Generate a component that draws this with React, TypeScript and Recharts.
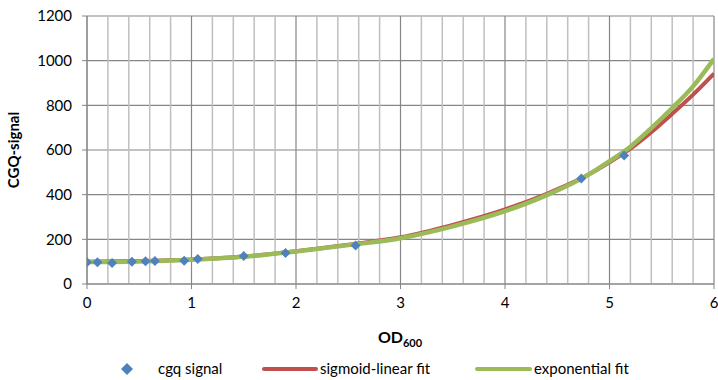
import { ComposedChart, Line, Scatter, XAxis, YAxis, CartesianGrid, ReferenceLine } from 'recharts';

document.body.style.margin = '0';

const FONT = 'Lato, "DejaVu Sans", sans-serif';

const sampleX = [0, 0.5, 1, 1.5, 2, 2.5, 3, 3.5, 4, 4.4, 4.8, 5, 5.2, 5.4, 5.6, 5.8, 6];
const sigmoidFit = [100, 103, 110, 123, 147, 176, 209, 265, 334, 404, 490, 545, 606, 680, 762, 848, 942];
const expFit = [98, 101, 109, 122, 146, 174, 205, 258, 326, 398, 490, 550, 615, 698, 788, 885, 1008];

// measured cgq signal
const cgqX = [0, 0.1, 0.24, 0.43, 0.56, 0.65, 0.93, 1.06, 1.5, 1.9, 2.57, 4.73, 5.14];
const cgqY = [97, 97, 94, 100, 102, 103, 104, 112, 125, 139, 172, 472, 575];

const xTicks = [0, 1, 2, 3, 4, 5, 6];
const yTicks = [0, 200, 400, 600, 800, 1000, 1200];

const sigmoidData = sampleX.map((x, i) => ({ x, y: sigmoidFit[i] }));
const expData = sampleX.map((x, i) => ({ x, y: expFit[i] }));
const cgqData = cgqX.map((x, i) => ({ x, y: cgqY[i] }));

// minor vertical gridlines every 0.2
const minorX: number[] = [];
for (let i = 1; i < 30; i++) {
  if (i % 5 !== 0) minorX.push(Math.round(i * 20) / 100);
}

const Diamond = (props: any) => {
  const { cx, cy } = props;
  if (cx == null || cy == null) return null;
  const r = 5;
  return <polygon points={`${cx},${cy - r} ${cx + r},${cy} ${cx},${cy + r} ${cx - r},${cy}`} fill="#4F81BD" />;
};

function LegendRow() {
  const txt = { position: 'absolute' as const, top: 359, fontFamily: FONT, fontSize: 15, color: '#000' };
  return (
    <>
      <svg style={{ position: 'absolute', left: 121, top: 363 }} width={12} height={12}>
        <polygon points="6,0 12,6 6,12 0,6" fill="#4F81BD" />
      </svg>
      <div style={{ ...txt, left: 158 }}>cgq signal</div>
      <div style={{ position: 'absolute', left: 262, top: 367, width: 56, height: 4, background: '#C0504D', borderRadius: 2 }} />
      <div style={{ ...txt, left: 320 }}>sigmoid-linear fit</div>
      <div style={{ position: 'absolute', left: 475, top: 367, width: 57, height: 4, background: '#9BBB59', borderRadius: 2 }} />
      <div style={{ ...txt, left: 534 }}>exponential fit</div>
    </>
  );
}

export default function App() {
  return (
    <div style={{ position: 'relative', width: 718, height: 380, background: '#fff' }}>
      <ComposedChart width={718} height={380} margin={{ top: 16, right: 4, left: 0, bottom: 36 }}>
        {minorX.map((v) => (
          <ReferenceLine key={v} x={v} stroke="#BFBFBF" strokeWidth={1.5} />
        ))}
        <CartesianGrid stroke="#868686" strokeWidth={1.2} horizontal vertical />
        <XAxis
          type="number"
          dataKey="x"
          domain={[0, 6]}
          ticks={xTicks}
          allowDataOverflow
          height={60}
          stroke="#868686"
          tickSize={5}
          tickMargin={8}
          tick={{ fill: '#000', fontSize: 15, fontFamily: FONT }}
          label={(p: any) => (
            <text x={400} y={343} textAnchor="middle" fontFamily={FONT} fontWeight="bold" fontSize={16} fill="#000">
              OD<tspan fontSize={11} dy={4}>600</tspan>
            </text>
          )}
        />
        <YAxis
          type="number"
          domain={[0, 1200]}
          ticks={yTicks}
          width={87}
          stroke="#868686"
          tickSize={5}
          tickMargin={10}
          tick={{ fill: '#000', fontSize: 15, fontFamily: FONT }}
          label={(p: any) => (
            <text x={19} y={150} transform="rotate(-90 19 150)" textAnchor="middle" fontFamily={FONT} fontWeight="bold" fontSize={15} fill="#000">
              CGQ-signal
            </text>
          )}
        />
        <Scatter name="cgq signal" data={cgqData} dataKey="y" shape={<Diamond />} isAnimationActive={false} />
        <Line name="sigmoid-linear fit" data={sigmoidData} dataKey="y" type="monotone" stroke="#C0504D" strokeWidth={4} dot={false} activeDot={false} isAnimationActive={false} />
        <Line name="exponential fit" data={expData} dataKey="y" type="monotone" stroke="#9BBB59" strokeWidth={4.5} dot={false} activeDot={false} isAnimationActive={false} />
      </ComposedChart>
      <LegendRow />
    </div>
  );
}
